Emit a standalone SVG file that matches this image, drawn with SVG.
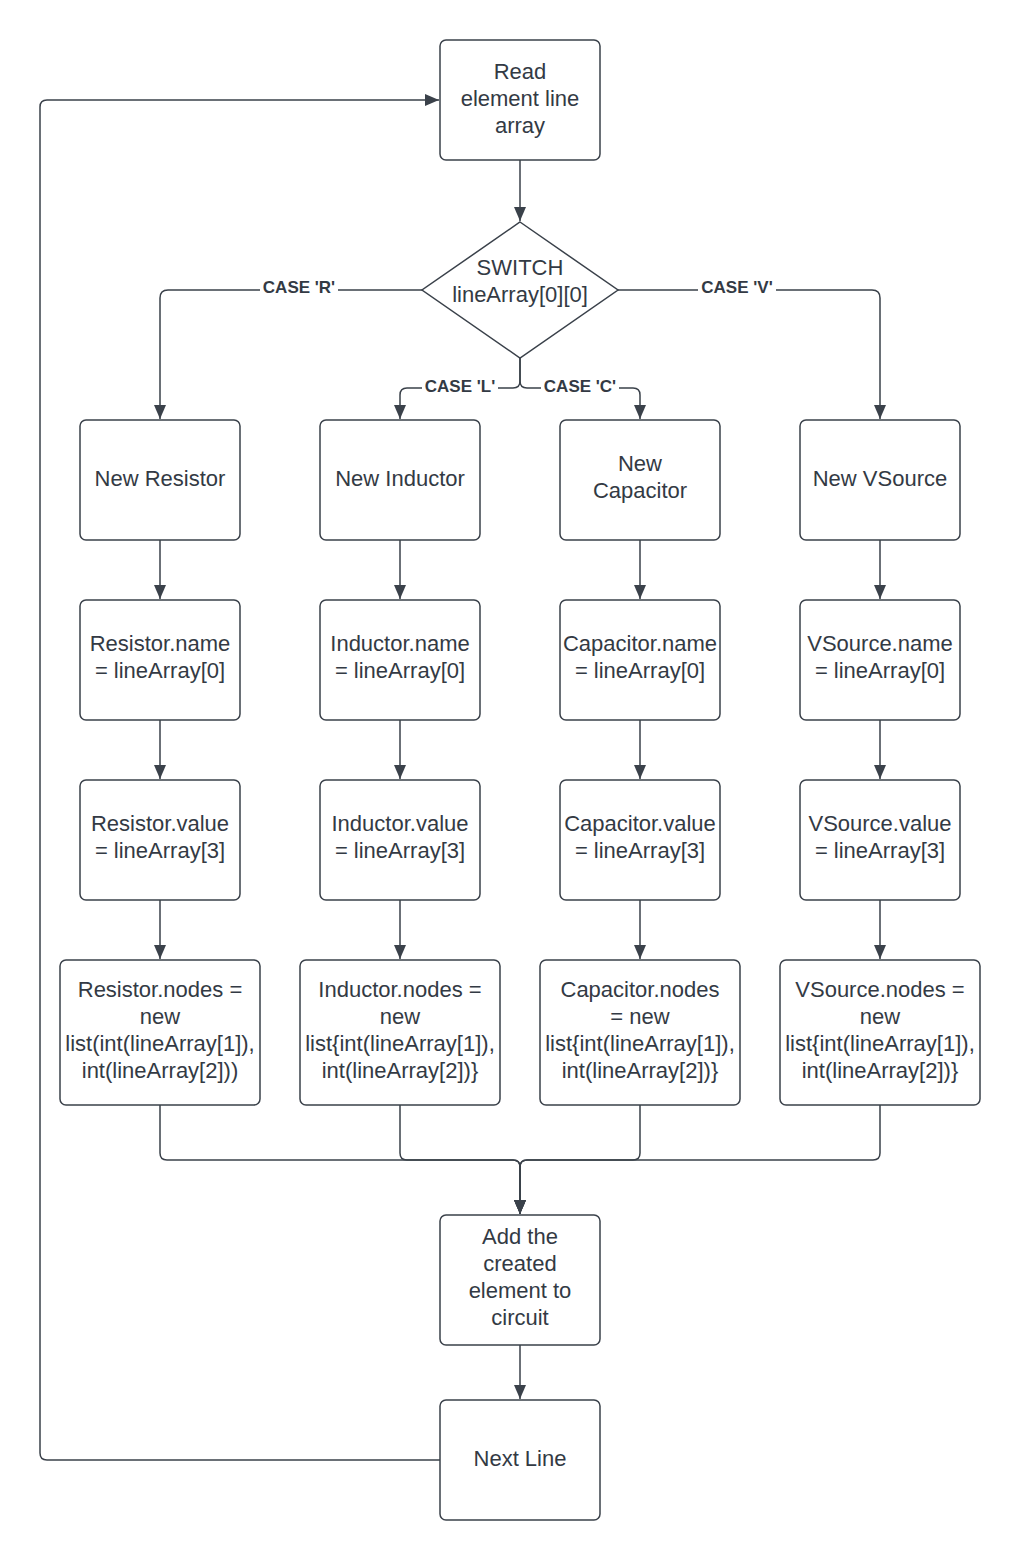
<svg xmlns="http://www.w3.org/2000/svg" width="1021" height="1560" viewBox="0 0 1021 1560">
<style>
.box{fill:#fff;stroke:#3a414a;stroke-width:1.5}
.t{font-family:"Liberation Sans",Arial,sans-serif;font-size:22px;fill:#333a44;text-anchor:middle}
.lbl{font-family:"Liberation Sans",Arial,sans-serif;font-size:17px;font-weight:bold;fill:#333a44;text-anchor:middle}
.c{fill:none;stroke:#3a414a;stroke-width:1.5}
</style>
<defs>
<marker id="ah" viewBox="0 0 14 14" refX="14" refY="7" markerWidth="14" markerHeight="14" markerUnits="userSpaceOnUse" orient="auto">
<path d="M0,1 L14,7 L0,13 Z" fill="#3a414a"/>
</marker>
</defs>
<rect width="1021" height="1560" fill="#fff"/>
<g id="connectors">
<path class="c" d="M520,160 V221" marker-end="url(#ah)"/>
<path class="c" d="M422,290 H168 Q160,290 160,298 V419" marker-end="url(#ah)"/>
<path class="c" d="M618,290 H872 Q880,290 880,298 V419" marker-end="url(#ah)"/>
<path class="c" d="M520,358 V381 Q520,388 513,388 H407 Q400,388 400,395 V419" marker-end="url(#ah)"/>
<path class="c" d="M520,358 V381 Q520,388 527,388 H633 Q640,388 640,395 V419" marker-end="url(#ah)"/>
<path class="c" d="M160,540 V599" marker-end="url(#ah)"/>
<path class="c" d="M400,540 V599" marker-end="url(#ah)"/>
<path class="c" d="M640,540 V599" marker-end="url(#ah)"/>
<path class="c" d="M880,540 V599" marker-end="url(#ah)"/>
<path class="c" d="M160,720 V779" marker-end="url(#ah)"/>
<path class="c" d="M400,720 V779" marker-end="url(#ah)"/>
<path class="c" d="M640,720 V779" marker-end="url(#ah)"/>
<path class="c" d="M880,720 V779" marker-end="url(#ah)"/>
<path class="c" d="M160,900 V959" marker-end="url(#ah)"/>
<path class="c" d="M400,900 V959" marker-end="url(#ah)"/>
<path class="c" d="M640,900 V959" marker-end="url(#ah)"/>
<path class="c" d="M880,900 V959" marker-end="url(#ah)"/>
<path class="c" d="M160,1105 V1153 Q160,1160 167,1160 H513 Q520,1160 520,1167 V1214" marker-end="url(#ah)"/>
<path class="c" d="M400,1105 V1153 Q400,1160 407,1160 H513 Q520,1160 520,1167 V1214" marker-end="url(#ah)"/>
<path class="c" d="M640,1105 V1153 Q640,1160 633,1160 H527 Q520,1160 520,1167 V1214" marker-end="url(#ah)"/>
<path class="c" d="M880,1105 V1153 Q880,1160 873,1160 H527 Q520,1160 520,1167 V1214" marker-end="url(#ah)"/>
<path class="c" d="M520,1345 V1399" marker-end="url(#ah)"/>
<path class="c" d="M440,1460 H47 Q40,1460 40,1453 V107 Q40,100 47,100 H439" marker-end="url(#ah)"/>
<rect x="260" y="277" width="78" height="20" fill="#fff"/>
<text class="lbl" x="299" y="293">CASE 'R'</text>
<rect x="698" y="277" width="78" height="20" fill="#fff"/>
<text class="lbl" x="737" y="293">CASE 'V'</text>
<rect x="422" y="376" width="76" height="20" fill="#fff"/>
<text class="lbl" x="460" y="392">CASE 'L'</text>
<rect x="541" y="376" width="78" height="20" fill="#fff"/>
<text class="lbl" x="580" y="392">CASE 'C'</text>
</g>
<g id="read"><rect class="box" x="440" y="40" width="160" height="120" rx="6"/><text class="t" x="520" y="79">Read</text><text class="t" x="520" y="106">element line</text><text class="t" x="520" y="133">array</text></g>
<g id="switch"><path class="box" d="M520,222 L618,290 L520,358 L422,290 Z"/><text class="t" x="520" y="275">SWITCH</text><text class="t" x="520" y="302">lineArray[0][0]</text></g>
<g id="newR"><rect class="box" x="80" y="420" width="160" height="120" rx="6"/><text class="t" x="160" y="486">New Resistor</text></g>
<g id="newL"><rect class="box" x="320" y="420" width="160" height="120" rx="6"/><text class="t" x="400" y="486">New Inductor</text></g>
<g id="newC"><rect class="box" x="560" y="420" width="160" height="120" rx="6"/><text class="t" x="640" y="471">New</text><text class="t" x="640" y="498">Capacitor</text></g>
<g id="newV"><rect class="box" x="800" y="420" width="160" height="120" rx="6"/><text class="t" x="880" y="486">New VSource</text></g>
<g id="nameR"><rect class="box" x="80" y="600" width="160" height="120" rx="6"/><text class="t" x="160" y="651">Resistor.name</text><text class="t" x="160" y="678">= lineArray[0]</text></g>
<g id="nameL"><rect class="box" x="320" y="600" width="160" height="120" rx="6"/><text class="t" x="400" y="651">Inductor.name</text><text class="t" x="400" y="678">= lineArray[0]</text></g>
<g id="nameC"><rect class="box" x="560" y="600" width="160" height="120" rx="6"/><text class="t" x="640" y="651">Capacitor.name</text><text class="t" x="640" y="678">= lineArray[0]</text></g>
<g id="nameV"><rect class="box" x="800" y="600" width="160" height="120" rx="6"/><text class="t" x="880" y="651">VSource.name</text><text class="t" x="880" y="678">= lineArray[0]</text></g>
<g id="valR"><rect class="box" x="80" y="780" width="160" height="120" rx="6"/><text class="t" x="160" y="831">Resistor.value</text><text class="t" x="160" y="858">= lineArray[3]</text></g>
<g id="valL"><rect class="box" x="320" y="780" width="160" height="120" rx="6"/><text class="t" x="400" y="831">Inductor.value</text><text class="t" x="400" y="858">= lineArray[3]</text></g>
<g id="valC"><rect class="box" x="560" y="780" width="160" height="120" rx="6"/><text class="t" x="640" y="831">Capacitor.value</text><text class="t" x="640" y="858">= lineArray[3]</text></g>
<g id="valV"><rect class="box" x="800" y="780" width="160" height="120" rx="6"/><text class="t" x="880" y="831">VSource.value</text><text class="t" x="880" y="858">= lineArray[3]</text></g>
<g id="nodesR"><rect class="box" x="60" y="960" width="200" height="145" rx="6"/><text class="t" x="160" y="997">Resistor.nodes =</text><text class="t" x="160" y="1024">new</text><text class="t" x="160" y="1051">list(int(lineArray[1]),</text><text class="t" x="160" y="1078">int(lineArray[2]))</text></g>
<g id="nodesL"><rect class="box" x="300" y="960" width="200" height="145" rx="6"/><text class="t" x="400" y="997">Inductor.nodes =</text><text class="t" x="400" y="1024">new</text><text class="t" x="400" y="1051">list{int(lineArray[1]),</text><text class="t" x="400" y="1078">int(lineArray[2])}</text></g>
<g id="nodesC"><rect class="box" x="540" y="960" width="200" height="145" rx="6"/><text class="t" x="640" y="997">Capacitor.nodes</text><text class="t" x="640" y="1024">= new</text><text class="t" x="640" y="1051">list{int(lineArray[1]),</text><text class="t" x="640" y="1078">int(lineArray[2])}</text></g>
<g id="nodesV"><rect class="box" x="780" y="960" width="200" height="145" rx="6"/><text class="t" x="880" y="997">VSource.nodes =</text><text class="t" x="880" y="1024">new</text><text class="t" x="880" y="1051">list{int(lineArray[1]),</text><text class="t" x="880" y="1078">int(lineArray[2])}</text></g>
<g id="add"><rect class="box" x="440" y="1215" width="160" height="130" rx="6"/><text class="t" x="520" y="1244">Add the</text><text class="t" x="520" y="1271">created</text><text class="t" x="520" y="1298">element to</text><text class="t" x="520" y="1325">circuit</text></g>
<g id="next"><rect class="box" x="440" y="1400" width="160" height="120" rx="6"/><text class="t" x="520" y="1466">Next Line</text></g>
</svg>
